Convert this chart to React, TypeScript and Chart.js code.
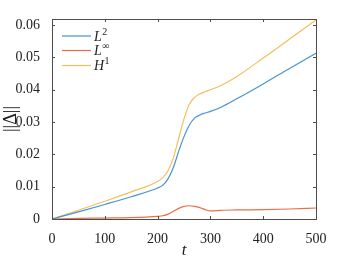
import React, { useEffect, useRef } from "react";
import { Chart, registerables } from "chart.js";

Chart.register(...registerables);

const tValues = [0, 50, 100, 150, 200, 210, 220, 230, 240, 250, 260, 270, 280, 290, 300, 320, 350, 400, 450, 500];
const l2Values = [0, 0.0022, 0.0045, 0.0069, 0.0096, 0.0105, 0.0125, 0.016, 0.021, 0.0255, 0.029, 0.0312, 0.0322, 0.0328, 0.0333, 0.0346, 0.0372, 0.0418, 0.0466, 0.0513];
const lInfValues = [0, 0.0002, 0.0003, 0.0004, 0.0008, 0.001, 0.0015, 0.0024, 0.0033, 0.0039, 0.0041, 0.0039, 0.0035, 0.0029, 0.0025, 0.0027, 0.0028, 0.0029, 0.0031, 0.0034];
const h1Values = [0, 0.0027, 0.0055, 0.0084, 0.0116, 0.0128, 0.015, 0.019, 0.025, 0.031, 0.0355, 0.0376, 0.0387, 0.0394, 0.04, 0.0413, 0.0441, 0.0498, 0.0557, 0.0616];
const xTicks = [0, 100, 200, 300, 400, 500];
const yTicks = [0, 0.01, 0.02, 0.03, 0.04, 0.05, 0.06];
const seriesBase = ["L", "L", "H"];
const seriesSup = ["2", "\u221E", "1"];
const seriesColors = ["rgb(70,148,214)", "rgb(230,112,72)", "rgb(242,192,88)"];

const FONT = "'Liberation Serif', 'DejaVu Serif', serif";
const AXIS = "#4d4d4d";

const decorPlugin = {
  id: "decor",
  afterDraw(chart: any) {
    const { ctx, chartArea } = chart;
    const { left, right, top, bottom } = chartArea;
    const xs = chart.scales.x;
    const ys = chart.scales.y;
    ctx.save();
    ctx.strokeStyle = AXIS;
    ctx.lineWidth = 1;
    ctx.strokeRect(Math.round(left) + 0.5, Math.round(top) + 0.5, Math.round(right - left), Math.round(bottom - top));
    ctx.beginPath();
    for (const v of xTicks) {
      const px = Math.round(xs.getPixelForValue(v)) + 0.5;
      ctx.moveTo(px, bottom);
      ctx.lineTo(px, bottom - 3);
      ctx.moveTo(px, top);
      ctx.lineTo(px, top + 3);
    }
    for (const v of yTicks) {
      const py = Math.round(ys.getPixelForValue(v)) + 0.5;
      ctx.moveTo(left, py);
      ctx.lineTo(left + 3, py);
      ctx.moveTo(right, py);
      ctx.lineTo(right - 3, py);
    }
    ctx.stroke();

    // legend
    const ly = [36, 50.5, 65.5];
    for (let i = 0; i < 3; i++) {
      ctx.strokeStyle = seriesColors[i];
      ctx.lineWidth = 1.2;
      ctx.beginPath();
      ctx.moveTo(62, ly[i]);
      ctx.lineTo(91, ly[i]);
      ctx.stroke();
      ctx.fillStyle = "#222";
      ctx.textBaseline = "middle";
      ctx.textAlign = "left";
      ctx.font = `italic 14px ${FONT}`;
      ctx.fillText(seriesBase[i], 94, ly[i] + 1);
      const w = ctx.measureText(seriesBase[i]).width;
      ctx.font = `10px ${FONT}`;
      ctx.fillText(seriesSup[i], 94 + w + 0.5, ly[i] - 4);
    }

    // axis titles
    ctx.fillStyle = "#222";
    ctx.font = `italic 17px ${FONT}`;
    ctx.textAlign = "center";
    ctx.textBaseline = "alphabetic";
    ctx.fillText("t", (left + right) / 2, 255);

    ctx.save();
    ctx.translate(11, (top + bottom) / 2);
    ctx.rotate(-Math.PI / 2);
    ctx.font = `18px ${FONT}`;
    ctx.textBaseline = "middle";
    ctx.fillText("||\u0394||", 0, 0);
    ctx.restore();
    ctx.restore();
  },
};

export default function App() {
  const ref = useRef<HTMLCanvasElement>(null);
  useEffect(() => {
    const mk = (vals: number[]) => tValues.map((t, i) => ({ x: t, y: vals[i] }));
    const chart = new Chart(ref.current!, {
      type: "line",
      data: {
        datasets: [
          { label: "L2", data: mk(l2Values), borderColor: seriesColors[0] },
          { label: "Linf", data: mk(lInfValues), borderColor: seriesColors[1] },
          { label: "H1", data: mk(h1Values), borderColor: seriesColors[2] },
        ].map((d) => ({ ...d, borderWidth: 1.2, pointRadius: 0, fill: false, cubicInterpolationMode: "monotone" as const })),
      },
      options: {
        responsive: false,
        animation: false,
        layout: { padding: { left: 0, top: 19, right: 33, bottom: 0 } },
        plugins: { legend: { display: false }, tooltip: { enabled: false } },
        scales: {
          x: {
            type: "linear",
            min: 0,
            max: 500,
            grid: { display: false },
            border: { display: false },
            afterBuildTicks: (s: any) => { s.ticks = xTicks.map((v) => ({ value: v })); },
            afterFit: (s: any) => { s.height = 43; },
            ticks: { color: "#222", font: { family: FONT, size: 14 }, padding: 4, maxRotation: 0, callback: (v: any) => String(v) },
          },
          y: {
            type: "linear",
            min: 0,
            max: 0.0619,
            grid: { display: false },
            border: { display: false },
            afterBuildTicks: (s: any) => { s.ticks = yTicks.map((v) => ({ value: v })); },
            afterFit: (s: any) => { s.width = 52; },
            ticks: { color: "#222", font: { family: FONT, size: 14 }, padding: 4, callback: (v: any) => (v === 0 ? "0" : Number(v).toFixed(2)) },
          },
        },
      },
      plugins: [decorPlugin],
    });
    return () => chart.destroy();
  }, []);
  return (
    <div style={{ position: "fixed", left: 0, top: 0, width: 349, height: 262, background: "#fff" }}>
      <canvas ref={ref} width={349} height={262} style={{ display: "block" }} />
    </div>
  );
}
